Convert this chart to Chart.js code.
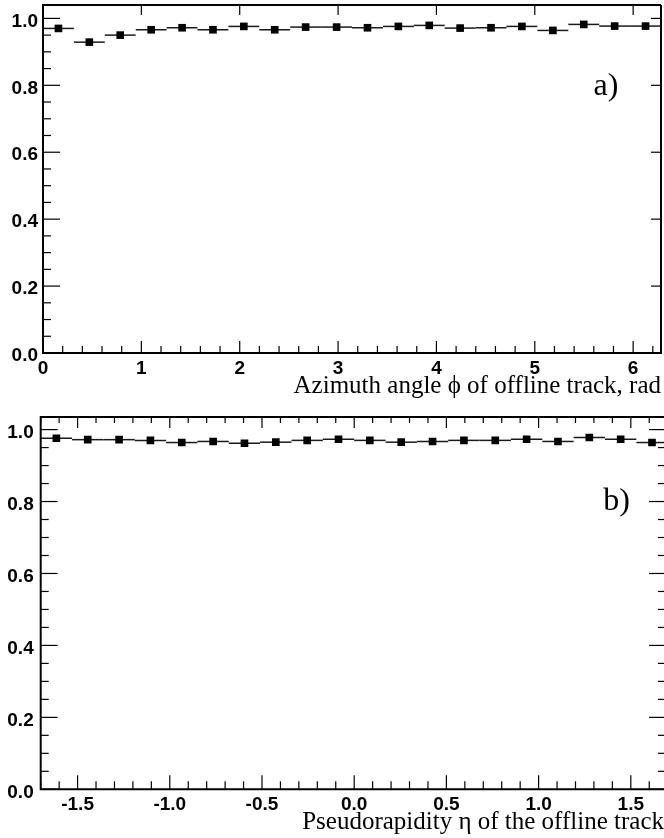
<!DOCTYPE html>
<html>
<head>
<meta charset="utf-8">
<script src="https://cdn.jsdelivr.net/npm/chart.js@4.4.1/dist/chart.umd.min.js"></script>
<style>
  html, body { margin: 0; padding: 0; background: #fff; overflow: hidden; }
  canvas { position: absolute; left: 0; }
  #chartA { top: 0; }
  #chartB { top: 400px; }
</style>
</head>
<body>
<canvas id="chartA" width="664" height="400"></canvas>
<canvas id="chartB" width="664" height="438"></canvas>
<script>
// --- datos ---
// a) eficiencia vs ángulo azimutal (20 bins de 0 a 2π)
const phiBins = [0.157, 0.471, 0.785, 1.100, 1.414, 1.728, 2.042, 2.356, 2.670, 2.985,
                 3.299, 3.613, 3.927, 4.241, 4.555, 4.869, 5.184, 5.498, 5.812, 6.126];
const phiHalfWidth = 0.157;
const phiEff = [0.970, 0.929, 0.950, 0.966, 0.972, 0.966, 0.976, 0.966, 0.974, 0.974,
                0.972, 0.976, 0.979, 0.971, 0.972, 0.976, 0.964, 0.982, 0.977, 0.977];
const phiTicks = [0, 1, 2, 3, 4, 5, 6];

// b) eficiencia vs pseudorapidez (20 bins de -1.7 a 1.7)
const etaBins = [-1.615, -1.445, -1.275, -1.105, -0.935, -0.765, -0.595, -0.425, -0.255, -0.085,
                 0.085, 0.255, 0.425, 0.595, 0.765, 0.935, 1.105, 1.275, 1.445, 1.615];
const etaHalfWidth = 0.085;
const etaEff = [0.976, 0.972, 0.972, 0.970, 0.964, 0.967, 0.962, 0.965, 0.970, 0.973,
                0.970, 0.965, 0.967, 0.970, 0.970, 0.973, 0.967, 0.978, 0.973, 0.964];
const etaTicks = [-1.5, -1.0, -0.5, 0.0, 0.5, 1.0, 1.5];

const effTicks = [0.0, 0.2, 0.4, 0.6, 0.8, 1.0];

// barras horizontales del ancho del bin
const binBars = {
    id: 'binBars',
    beforeDatasetsDraw(chart, args, opts) {
        const { ctx, scales: { x, y } } = chart;
        ctx.save();
        ctx.strokeStyle = '#1a1a1a';
        ctx.lineWidth = 1.5;
        chart.data.datasets[0].data.forEach(function(p) {
            const yp = y.getPixelForValue(p.y);
            ctx.beginPath();
            ctx.moveTo(x.getPixelForValue(p.x - opts.half), yp);
            ctx.lineTo(x.getPixelForValue(p.x + opts.half), yp);
            ctx.stroke();
        });
        ctx.restore();
    }
};

// marco y marcas de escala hacia adentro (estilo ROOT)
const frameTicks = {
    id: 'frameTicks',
    afterDraw(chart, args, o) {
        const { ctx, chartArea: a, scales: { x, y } } = chart;
        ctx.save();
        ctx.strokeStyle = '#000';
        ctx.lineWidth = 1.2;
        const line = (x1, y1, x2, y2) => {
            ctx.beginPath(); ctx.moveTo(x1, y1); ctx.lineTo(x2, y2); ctx.stroke();
        };
        const isMajor = (v, step) => Math.abs(v / step - Math.round(v / step)) < 1e-6;

        for (let k = Math.ceil(x.min / o.xMinor - 1e-6); k * o.xMinor <= x.max + 1e-6; k++) {
            const v = k * o.xMinor;
            const px = x.getPixelForValue(v);
            const major = isMajor(v, o.xMajor);
            const lb = major ? o.bottom[0] : o.bottom[1];
            const lt = major ? o.top[0] : o.top[1];
            if (lb) line(px, a.bottom, px, a.bottom - lb);
            if (lt) line(px, a.top, px, a.top + lt);
        }
        for (let k = Math.ceil(y.min / o.yMinor - 1e-6); k * o.yMinor <= y.max + 1e-6; k++) {
            const v = k * o.yMinor;
            const py = y.getPixelForValue(v);
            const major = isMajor(v, o.yMajor);
            const ll = major ? o.left[0] : o.left[1];
            const lr = major ? o.right[0] : o.right[1];
            if (ll) line(a.left, py, a.left + ll, py);
            if (lr) line(a.right, py, a.right - lr, py);
        }

        ctx.lineWidth = 2;
        ctx.beginPath();
        ctx.moveTo(a.right, a.top);
        ctx.lineTo(a.left, a.top);
        ctx.lineTo(a.left, a.bottom);
        ctx.lineTo(a.right, a.bottom);
        if (o.rightFrame) ctx.lineTo(a.right, a.top);
        ctx.stroke();

        // etiqueta del panel
        ctx.fillStyle = '#000';
        ctx.font = '32px "Liberation Serif", "Times New Roman", serif';
        ctx.textAlign = 'right';
        ctx.textBaseline = 'middle';
        ctx.fillText(o.tag, x.getPixelForValue(o.tagAt[0]), y.getPixelForValue(o.tagAt[1]));
        ctx.restore();
    }
};

const tickFont = { family: '"Liberation Sans", Arial, sans-serif', size: 19, weight: 'bold' };
const titleFont = { family: '"Liberation Serif", "Times New Roman", serif', size: 25 };

function makePanel(canvasId, cfg) {
    const ctx = document.getElementById(canvasId);
    return new Chart(ctx, {
        type: 'scatter',
        data: {
            datasets: [{
                data: cfg.bins.map((b, i) => ({ x: b, y: cfg.eff[i] })),
                pointStyle: 'rect',
                pointRadius: 5.4,
                pointHoverRadius: 5.4,
                backgroundColor: '#000',
                borderWidth: 0,
                showLine: false
            }]
        },
        options: {
            responsive: false,
            animation: false,
            events: [],
            layout: { padding: cfg.padding, autoPadding: false },
            plugins: {
                legend: { display: false },
                tooltip: { enabled: false },
                binBars: { half: cfg.half },
                frameTicks: cfg.frame
            },
            scales: {
                x: {
                    type: 'linear',
                    min: cfg.xMin,
                    max: cfg.xMax,
                    afterBuildTicks: s => { s.ticks = cfg.xTicks.map(v => ({ value: v })); },
                    afterFit: s => {
                        s.height = cfg.xAxisHeight;
                        s.paddingLeft = 0;
                        s.paddingRight = 0;
                    },
                    grid: { display: false, drawTicks: false },
                    border: { display: false },
                    ticks: {
                        color: '#000',
                        font: tickFont,
                        padding: 4,
                        maxRotation: 0,
                        autoSkip: false,
                        callback: cfg.xFormat
                    },
                    title: {
                        display: true,
                        text: cfg.xTitle,
                        align: 'end',
                        color: '#000',
                        font: titleFont,
                        padding: { top: 0, bottom: cfg.titlePad }
                    }
                },
                y: {
                    type: 'linear',
                    min: 0,
                    max: cfg.yMax,
                    afterBuildTicks: s => { s.ticks = effTicks.map(v => ({ value: v })); },
                    afterFit: s => {
                        s.width = cfg.yAxisWidth;
                        s.paddingTop = 0;
                        s.paddingBottom = 0;
                    },
                    grid: { display: false, drawTicks: false },
                    border: { display: false },
                    ticks: {
                        color: '#000',
                        font: tickFont,
                        padding: cfg.yPad,
                        labelOffset: 3,
                        autoSkip: false,
                        callback: v => v.toFixed(1)
                    }
                }
            }
        },
        plugins: [binBars, frameTicks]
    });
}

makePanel('chartA', {
    bins: phiBins, eff: phiEff, half: phiHalfWidth,
    xMin: 0, xMax: 2 * Math.PI, xTicks: phiTicks, yMax: 1.04,
    xFormat: v => String(v),
    xTitle: 'Azimuth angle \u03D5 of offline track, rad',
    padding: { top: 5, left: 0, right: 3, bottom: 0 },
    xAxisHeight: 47, yAxisWidth: 43, yPad: 5, titlePad: -1,
    frame: {
        xMinor: 0.2, xMajor: 1, yMinor: 0.05, yMajor: 0.2,
        bottom: [12, 7], top: [10, 0], left: [17, 8], right: [10, 0],
        rightFrame: true, tag: 'a)', tagAt: [5.85, 0.795]
    }
});

makePanel('chartB', {
    bins: etaBins, eff: etaEff, half: etaHalfWidth,
    xMin: -1.7, xMax: 1.68, xTicks: etaTicks, yMax: 1.035,
    xFormat: v => v.toFixed(1),
    xTitle: 'Pseudorapidity \u03B7 of the offline track',
    padding: { top: 17, left: 0, right: 0, bottom: 0 },
    xAxisHeight: 48.7, yAxisWidth: 40.7, yPad: 7, titlePad: 1,
    frame: {
        xMinor: 0.1, xMajor: 0.5, yMinor: 0.05, yMajor: 0.2,
        bottom: [14, 8], top: [11, 6], left: [17, 8], right: [15, 6],
        rightFrame: false, tag: 'b)', tagAt: [1.495, 0.80]
    }
});
</script>
</body>
</html>
